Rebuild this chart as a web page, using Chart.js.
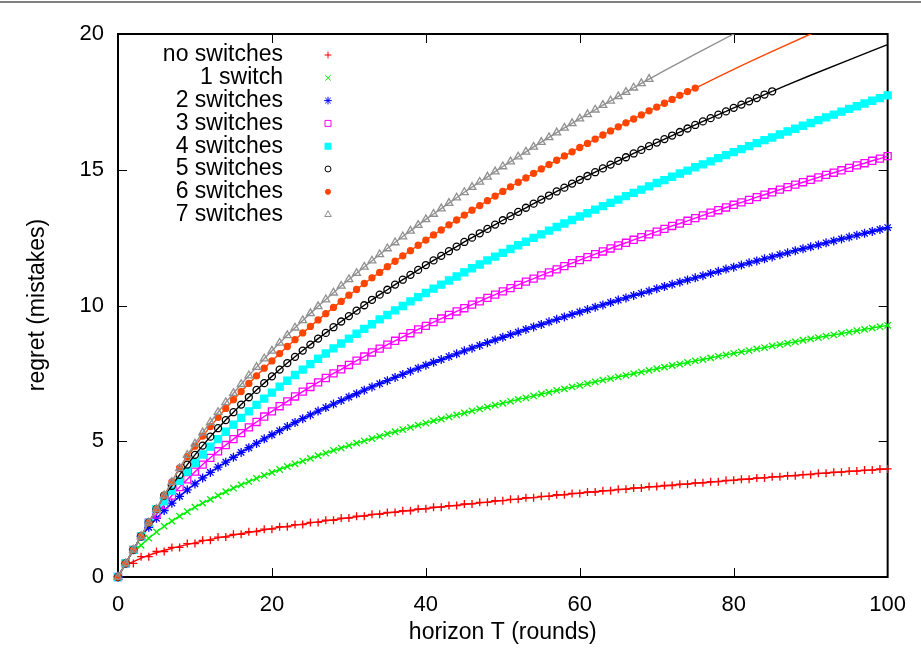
<!DOCTYPE html>
<html>
<head>
<meta charset="utf-8">
<script src="https://cdn.jsdelivr.net/npm/chart.js@4/dist/chart.umd.min.js"></script>
<style>
  html, body { margin: 0; padding: 0; background: #fff; }
  canvas { display: block; }
</style>
</head>
<body>
<canvas id="regretChart" width="921" height="656"></canvas>
<script>
// horizon T (rounds)
const horizon = [0,1,2,3,4,5,6,7,8,9,10,11,12,13,14,15,16,17,18,19,20,21,22,23,24,25,26,27,28,29,30,
  31,32,33,34,35,36,37,38,39,40,41,42,43,44,45,46,47,48,49,50,51,52,53,54,55,56,57,58,59,60,
  61,62,63,64,65,66,67,68,69,70,71,72,73,74,75,76,77,78,79,80,81,82,83,84,85,86,87,88,89,90,
  91,92,93,94,95,96,97,98,99,100];

const labels = ['no switches', '1 switch', '2 switches', '3 switches', '4 switches', '5 switches', '6 switches', '7 switches'];

// regret (mistakes), one marker per round
const noSwitches = [0, 0.50, 0.50, 0.75, 0.75, 0.94, 0.94, 1.09, 1.09, 1.23, 1.23,
  1.35, 1.35, 1.47, 1.47, 1.57, 1.57, 1.67, 1.67, 1.76, 1.76,
  1.85, 1.85, 1.93, 1.93, 2.01, 2.01, 2.09, 2.09, 2.17, 2.17,
  2.24, 2.24, 2.31, 2.31, 2.38, 2.38, 2.44, 2.44, 2.51, 2.51,
  2.57, 2.57, 2.63, 2.63, 2.69, 2.69, 2.75, 2.75, 2.81, 2.81,
  2.86, 2.86, 2.92, 2.92, 2.97, 2.97, 3.03, 3.03, 3.08, 3.08,
  3.13, 3.13, 3.18, 3.18, 3.23, 3.23, 3.28, 3.28, 3.33, 3.33,
  3.37, 3.37, 3.42, 3.42, 3.47, 3.47, 3.51, 3.51, 3.56, 3.56,
  3.60, 3.60, 3.65, 3.65, 3.69, 3.69, 3.73, 3.73, 3.77, 3.77,
  3.82, 3.82, 3.86, 3.86, 3.90, 3.90, 3.94, 3.94, 3.98, 3.98];

const oneSwitch = [0, 0.50, 1.00, 1.17, 1.43, 1.66, 1.87, 2.06, 2.24, 2.41, 2.57,
  2.72, 2.86, 3.00, 3.14, 3.27, 3.39, 3.51, 3.63, 3.74, 3.85,
  3.96, 4.07, 4.17, 4.27, 4.37, 4.47, 4.56, 4.66, 4.75, 4.84,
  4.93, 5.01, 5.10, 5.18, 5.27, 5.35, 5.43, 5.51, 5.59, 5.67,
  5.75, 5.82, 5.90, 5.97, 6.04, 6.12, 6.19, 6.26, 6.33, 6.40,
  6.47, 6.54, 6.60, 6.67, 6.74, 6.80, 6.87, 6.93, 7.00, 7.06,
  7.12, 7.19, 7.25, 7.31, 7.37, 7.43, 7.49, 7.55, 7.61, 7.67,
  7.73, 7.79, 7.84, 7.90, 7.96, 8.01, 8.07, 8.13, 8.18, 8.24,
  8.29, 8.34, 8.40, 8.45, 8.51, 8.56, 8.61, 8.66, 8.72, 8.77,
  8.82, 8.87, 8.92, 8.97, 9.02, 9.07, 9.12, 9.17, 9.22, 9.27];

const twoSwitches = [0, 0.50, 1.00, 1.50, 1.83, 2.16, 2.45, 2.72, 2.97, 3.21, 3.43,
  3.65, 3.85, 4.05, 4.23, 4.41, 4.59, 4.76, 4.92, 5.09, 5.24,
  5.39, 5.54, 5.69, 5.83, 5.97, 6.11, 6.24, 6.37, 6.50, 6.63,
  6.75, 6.88, 7.00, 7.12, 7.23, 7.35, 7.46, 7.58, 7.69, 7.80,
  7.91, 8.01, 8.12, 8.22, 8.33, 8.43, 8.53, 8.63, 8.73, 8.83,
  8.93, 9.02, 9.12, 9.21, 9.30, 9.40, 9.49, 9.58, 9.67, 9.76,
  9.85, 9.94, 10.02, 10.11, 10.20, 10.28, 10.37, 10.45, 10.53, 10.62,
  10.70, 10.78, 10.86, 10.94, 11.02, 11.10, 11.18, 11.26, 11.34, 11.41,
  11.49, 11.57, 11.64, 11.72, 11.79, 11.87, 11.94, 12.02, 12.09, 12.16,
  12.23, 12.31, 12.38, 12.45, 12.52, 12.59, 12.66, 12.73, 12.80, 12.87];

const threeSwitches = [0, 0.50, 1.00, 1.50, 2.00, 2.30, 2.66, 3.00, 3.31, 3.60, 3.88,
  4.14, 4.39, 4.63, 4.86, 5.08, 5.30, 5.51, 5.71, 5.91, 6.10,
  6.29, 6.47, 6.65, 6.83, 7.00, 7.17, 7.33, 7.50, 7.65, 7.81,
  7.97, 8.12, 8.27, 8.41, 8.56, 8.70, 8.84, 8.98, 9.12, 9.25,
  9.39, 9.52, 9.65, 9.78, 9.90, 10.03, 10.15, 10.28, 10.40, 10.52,
  10.64, 10.76, 10.88, 10.99, 11.11, 11.22, 11.33, 11.45, 11.56, 11.67,
  11.78, 11.89, 11.99, 12.10, 12.21, 12.31, 12.42, 12.52, 12.62, 12.72,
  12.82, 12.93, 13.02, 13.12, 13.22, 13.32, 13.42, 13.51, 13.61, 13.71,
  13.80, 13.89, 13.99, 14.08, 14.17, 14.27, 14.36, 14.45, 14.54, 14.63,
  14.72, 14.81, 14.89, 14.98, 15.07, 15.16, 15.24, 15.33, 15.41, 15.50];

const fourSwitches = [0, 0.50, 1.00, 1.50, 2.00, 2.50, 2.79, 3.18, 3.54, 3.88, 4.20,
  4.51, 4.80, 5.08, 5.35, 5.61, 5.86, 6.10, 6.34, 6.57, 6.79,
  7.01, 7.23, 7.44, 7.64, 7.84, 8.04, 8.23, 8.42, 8.60, 8.78,
  8.96, 9.14, 9.31, 9.49, 9.65, 9.82, 9.98, 10.15, 10.31, 10.46,
  10.62, 10.77, 10.92, 11.07, 11.22, 11.37, 11.51, 11.66, 11.80, 11.94,
  12.08, 12.22, 12.35, 12.49, 12.62, 12.76, 12.89, 13.02, 13.15, 13.28,
  13.40, 13.53, 13.66, 13.78, 13.90, 14.03, 14.15, 14.27, 14.39, 14.51,
  14.62, 14.74, 14.86, 14.97, 15.09, 15.20, 15.31, 15.43, 15.54, 15.65,
  15.76, 15.87, 15.98, 16.09, 16.19, 16.30, 16.41, 16.51, 16.62, 16.72,
  16.83, 16.93, 17.03, 17.14, 17.24, 17.34, 17.44, 17.54, 17.64, 17.74];

// T = 0..85
const fiveSwitches = [0, 0.50, 1.00, 1.50, 2.00, 2.50, 3.00, 3.36, 3.76, 4.14, 4.50,
  4.84, 5.17, 5.48, 5.78, 6.07, 6.35, 6.62, 6.89, 7.14, 7.39,
  7.64, 7.88, 8.11, 8.34, 8.56, 8.78, 8.99, 9.20, 9.41, 9.61,
  9.81, 10.01, 10.21, 10.40, 10.58, 10.77, 10.95, 11.13, 11.31, 11.49,
  11.66, 11.83, 12.00, 12.17, 12.34, 12.50, 12.66, 12.82, 12.98, 13.14,
  13.29, 13.45, 13.60, 13.75, 13.90, 14.05, 14.20, 14.34, 14.49, 14.63,
  14.77, 14.91, 15.05, 15.19, 15.33, 15.46, 15.60, 15.73, 15.87, 16.00,
  16.13, 16.26, 16.39, 16.52, 16.65, 16.78, 16.90, 17.03, 17.15, 17.28,
  17.40, 17.52, 17.64, 17.77, 17.89];

// T = 0..75
const sixSwitches = [0, 0.50, 1.00, 1.50, 2.00, 2.50, 3.00, 3.50, 4.02, 4.43, 4.82,
  5.19, 5.54, 5.88, 6.21, 6.53, 6.83, 7.13, 7.41, 7.69, 7.96,
  8.23, 8.49, 8.74, 8.99, 9.23, 9.47, 9.70, 9.93, 10.15, 10.38,
  10.59, 10.81, 11.02, 11.22, 11.43, 11.63, 11.83, 12.02, 12.22, 12.41,
  12.60, 12.78, 12.97, 13.15, 13.33, 13.51, 13.68, 13.86, 14.03, 14.20,
  14.37, 14.54, 14.70, 14.87, 15.03, 15.19, 15.35, 15.51, 15.66, 15.82,
  15.97, 16.13, 16.28, 16.43, 16.58, 16.73, 16.87, 17.02, 17.17, 17.31,
  17.45, 17.59, 17.74, 17.88, 18.01];

// T = 0..69
const sevenSwitches = [0, 0.50, 1.00, 1.50, 2.00, 2.50, 3.00, 3.50, 4.00, 4.49, 4.91,
  5.32, 5.70, 6.07, 6.43, 6.77, 7.10, 7.42, 7.73, 8.04, 8.33,
  8.62, 8.90, 9.18, 9.45, 9.71, 9.97, 10.22, 10.47, 10.72, 10.96,
  11.19, 11.42, 11.65, 11.88, 12.10, 12.32, 12.54, 12.75, 12.96, 13.17,
  13.37, 13.57, 13.77, 13.97, 14.17, 14.36, 14.55, 14.74, 14.93, 15.12,
  15.30, 15.48, 15.66, 15.84, 16.02, 16.19, 16.37, 16.54, 16.71, 16.88,
  17.04, 17.21, 17.38, 17.54, 17.70, 17.86, 18.02, 18.18, 18.34];

// smooth curve under the "no switches" staircase
const noSwitchCurveT = [1.5, 3.5, 5.5, 7.5, 9.5, 13.5, 19.5, 25.5, 33.5, 41.5, 51.5, 61.5, 71.5, 81.5, 91.5, 100];
const noSwitchCurve = [0.50, 0.75, 0.94, 1.09, 1.23, 1.47, 1.76, 2.01, 2.31, 2.57, 2.86, 3.13, 3.37, 3.60, 3.82, 3.98];

// bound curves continuing past the last computed round
const fiveTailT = [85, 90, 95, 100];
const fiveTail = [17.89, 18.48, 19.05, 19.61];
const sixTailT = [75, 80, 85, 90, 95];
const sixTail = [18.01, 18.70, 19.36, 20.00, 20.62];
const sevenTailT = [69, 75, 80, 85];
const sevenTail = [18.34, 19.26, 20.00, 20.72];

const xTicks = [0, 20, 40, 60, 80, 100];
const yTicks = [0, 5, 10, 15, 20];

const seriesValues = [noSwitches, oneSwitch, twoSwitches, threeSwitches, fourSwitches, fiveSwitches, sixSwitches, sevenSwitches];

const looks = [
  { color: '#ff0000', style: 'cross',    radius: 4,   filled: false },
  { color: '#00ee00', style: 'crossRot', radius: 4.5, filled: false },
  { color: '#0000ff', style: 'star',     radius: 4.5, filled: false },
  { color: '#ff00ff', style: 'rect',     radius: 5,   filled: false },
  { color: '#00ffff', style: 'rect',     radius: 5,   filled: true },
  { color: '#000000', style: 'circle',   radius: 3.5, filled: false },
  { color: '#ff4500', style: 'circle',   radius: 3,   filled: true },
  { color: '#909090', style: 'triangle', radius: 4.5, filled: false }
];

const FONT = '"Liberation Sans", Arial, sans-serif';

function pts(xs, ys) {
  return ys.map((y, i) => ({ x: xs[i], y: y }));
}

function buildDatasets() {
  const ds = [];
  seriesValues.forEach((vals, i) => {
    const lk = looks[i];
    ds.push({
      label: labels[i],
      data: pts(horizon, vals),
      showLine: i > 0,
      borderColor: lk.color,
      borderWidth: 1.4,
      pointStyle: lk.style,
      pointRadius: lk.radius,
      pointBorderWidth: 1.3,
      pointBorderColor: lk.color,
      pointBackgroundColor: lk.filled ? lk.color : 'rgba(0,0,0,0)',
      tension: 0,
      clip: false,
      order: 20 - i
    });
  });
  const lineOnly = (xs, ys, color, order) => ({
    data: pts(xs, ys),
    showLine: true,
    borderColor: color,
    borderWidth: 1.4,
    pointRadius: 0,
    cubicInterpolationMode: 'monotone',
    order: order
  });
  ds.push(lineOnly(noSwitchCurveT, noSwitchCurve, looks[0].color, 40));
  ds.push(lineOnly(fiveTailT, fiveTail, looks[5].color, 35));
  ds.push(lineOnly(sixTailT, sixTail, looks[6].color, 34));
  ds.push(lineOnly(sevenTailT, sevenTail, looks[7].color, 33));
  return ds;
}

// gnuplot-like frame, inward ticks, legend and axis titles
const gnuplotLook = {
  id: 'gnuplotLook',
  beforeDraw(chart) {
    const ctx = chart.ctx;
    ctx.save();
    ctx.fillStyle = '#fff';
    ctx.fillRect(0, 0, chart.width, chart.height);
    ctx.fillStyle = '#808080';
    ctx.fillRect(0, 1, chart.width, 2);
    ctx.restore();
  },
  beforeDatasetsDraw(chart) {
    const ctx = chart.ctx, a = chart.chartArea;
    const xs = chart.scales.x, ys = chart.scales.y;
    ctx.save();
    ctx.strokeStyle = '#000';
    ctx.lineWidth = 1;
    ctx.beginPath();
    xTicks.slice(1, -1).forEach(t => {
      const px = Math.round(xs.getPixelForValue(t)) + 0.5;
      ctx.moveTo(px, a.bottom); ctx.lineTo(px, a.bottom - 9);
      ctx.moveTo(px, a.top); ctx.lineTo(px, a.top + 9);
    });
    yTicks.slice(1, -1).forEach(t => {
      const py = Math.round(ys.getPixelForValue(t)) + 0.5;
      ctx.moveTo(a.left, py); ctx.lineTo(a.left + 9, py);
      ctx.moveTo(a.right, py); ctx.lineTo(a.right - 9, py);
    });
    ctx.stroke();
    ctx.lineWidth = 2;
    ctx.strokeRect(a.left, a.top, a.right - a.left, a.bottom - a.top);
    ctx.restore();
  },
  afterDraw(chart) {
    const ctx = chart.ctx, a = chart.chartArea;
    const drawPoint = Chart.helpers && Chart.helpers.drawPoint;
    ctx.save();
    ctx.font = '23px ' + FONT;
    ctx.textAlign = 'right';
    ctx.textBaseline = 'middle';
    labels.forEach((name, i) => {
      const y = 55 + i * 22.8;
      ctx.fillStyle = '#000';
      ctx.fillText(name, 283, y);
      const lk = looks[i];
      ctx.strokeStyle = lk.color;
      ctx.fillStyle = lk.filled ? lk.color : 'rgba(0,0,0,0)';
      ctx.lineWidth = 1;
      if (drawPoint) {
        drawPoint(ctx, { pointStyle: lk.style, rotation: 0, radius: lk.radius * 0.85, borderWidth: 1 }, 328, y);
      }
    });
    ctx.fillStyle = '#000';
    ctx.textAlign = 'center';
    ctx.fillText('horizon T (rounds)', (a.left + a.right) / 2, 633);
    ctx.translate(38, 305);
    ctx.rotate(-Math.PI / 2);
    ctx.fillText('regret (mistakes)', 0, 0);
    ctx.restore();
  }
};

window.onload = () => {
  const ctx = document.getElementById('regretChart').getContext('2d');
  new Chart(ctx, {
    type: 'scatter',
    data: { datasets: buildDatasets() },
    options: {
      responsive: false,
      animation: false,
      devicePixelRatio: 1,
      layout: { padding: { left: 0, right: 30, top: 34, bottom: 0 } },
      plugins: { legend: { display: false }, tooltip: { enabled: false } },
      scales: {
        x: {
          type: 'linear', min: 0, max: 100,
          afterFit: s => { s.height = 79; },
          afterBuildTicks: s => { s.ticks = xTicks.map(v => ({ value: v })); },
          grid: { display: false, drawTicks: false },
          border: { display: false },
          ticks: { color: '#000', font: { size: 22, family: FONT }, padding: 15, maxRotation: 0 }
        },
        y: {
          type: 'linear', min: 0, max: 20,
          afterFit: s => { s.width = 118; },
          afterBuildTicks: s => { s.ticks = yTicks.map(v => ({ value: v })); },
          grid: { display: false, drawTicks: false },
          border: { display: false },
          ticks: { color: '#000', font: { size: 22, family: FONT }, padding: 14 }
        }
      }
    },
    plugins: [gnuplotLook]
  });
};
</script>
</body>
</html>
